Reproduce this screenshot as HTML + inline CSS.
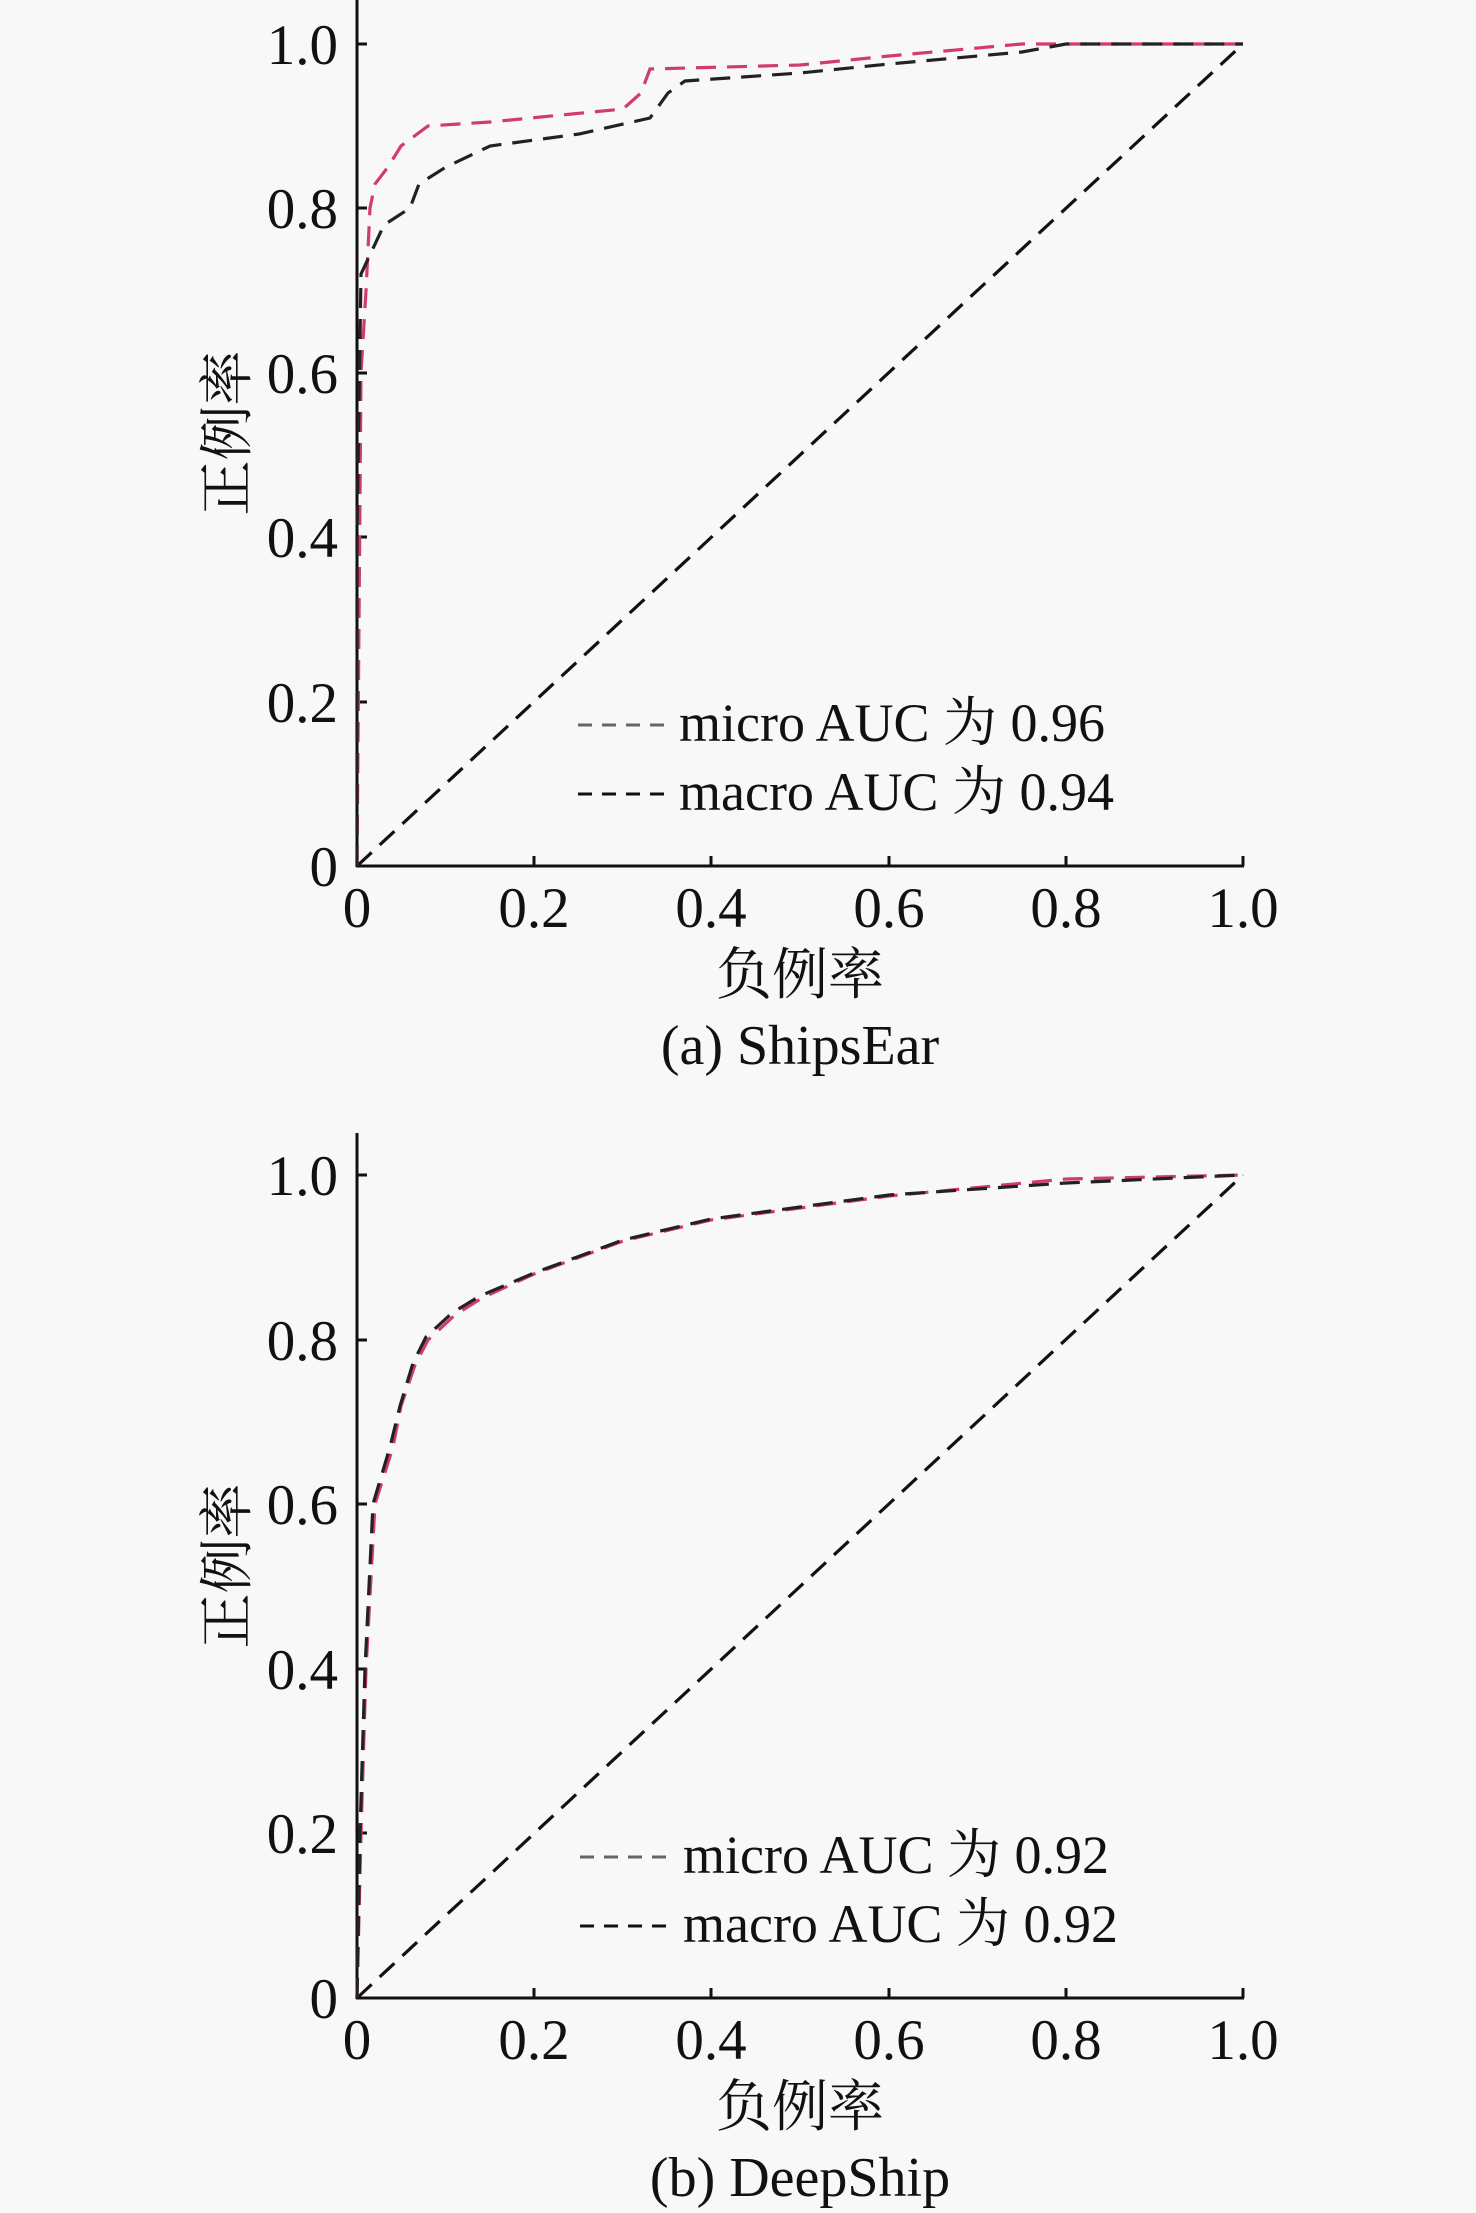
<!DOCTYPE html>
<html><head><meta charset="utf-8"><style>
html,body{margin:0;padding:0;background:#f8f8f8}
svg{display:block}
text{font-family:"Liberation Serif","Noto Serif CJK SC",serif;fill:#111}
.cj{font-family:"Liberation Serif","Noto Serif CJK SC","Noto Sans CJK SC",serif}
</style></head><body>
<svg width="1476" height="2213" viewBox="0 0 1476 2213" xmlns="http://www.w3.org/2000/svg">
<rect width="1476" height="2213" fill="#f8f8f8"/>
<g>
<g stroke="#111" stroke-width="3" fill="none">
<line x1="357" y1="0" x2="357" y2="867"/>
<line x1="356" y1="866" x2="1244" y2="866"/>
<line x1="357" y1="44" x2="367" y2="44"/><line x1="357" y1="208" x2="367" y2="208"/><line x1="357" y1="373" x2="367" y2="373"/><line x1="357" y1="537" x2="367" y2="537"/><line x1="357" y1="702" x2="367" y2="702"/>
<line x1="534" y1="866" x2="534" y2="856"/><line x1="711" y1="866" x2="711" y2="856"/><line x1="889" y1="866" x2="889" y2="856"/><line x1="1066" y1="866" x2="1066" y2="856"/><line x1="1243" y1="866" x2="1243" y2="856"/>
</g>
<g font-size="57" text-anchor="end">
<text x="338" y="64">1.0</text><text x="338" y="228">0.8</text><text x="338" y="393">0.6</text><text x="338" y="557">0.4</text><text x="338" y="722">0.2</text><text x="338" y="886">0</text>
</g>
<g font-size="57" text-anchor="middle">
<text x="357" y="927">0</text><text x="534" y="927">0.2</text><text x="711" y="927">0.4</text><text x="889" y="927">0.6</text><text x="1066" y="927">0.8</text><text x="1243" y="927">1.0</text>
</g>
<text class="cj" x="800" y="994" font-size="56" text-anchor="middle">负例率</text>
<text x="800" y="1064" font-size="56" text-anchor="middle">(a) ShipsEar</text>
<text class="cj" transform="translate(246,433) rotate(-90)" font-size="55" text-anchor="middle">正例率</text>
<g fill="none" stroke-width="3.2" stroke-dasharray="20 11">
<line x1="357" y1="866" x2="1243" y2="44" stroke="#111"/>
<polyline stroke="#d23c6c" points="357,866 361,373 366,291 370,208 375,184 388,167 401,146 428,126 490,122 623,109 641,93 650,69 800,65 889,56 1022,44 1243,44"/>
<polyline stroke="#222" points="357,866 357,537 361,274 384,225 410,208 419,184 446,167 490,146 579,134 650,118 668,93 685,81 800,73 889,64 1022,52 1066,44 1243,44"/>
</g>
<g stroke-width="3" stroke-dasharray="14 10">
<line x1="578" y1="725" x2="668" y2="725" stroke="#666"/>
<line x1="578" y1="794" x2="668" y2="794" stroke="#111"/>
</g>
<text class="cj" x="679" y="741" font-size="54">micro AUC 为 0.96</text>
<text class="cj" x="679" y="810" font-size="54">macro AUC 为 0.94</text>
</g>
<g>
<g stroke="#111" stroke-width="3" fill="none">
<line x1="357" y1="1133" x2="357" y2="1999"/>
<line x1="356" y1="1998" x2="1244" y2="1998"/>
<line x1="357" y1="1175" x2="367" y2="1175"/><line x1="357" y1="1340" x2="367" y2="1340"/><line x1="357" y1="1504" x2="367" y2="1504"/><line x1="357" y1="1669" x2="367" y2="1669"/><line x1="357" y1="1833" x2="367" y2="1833"/>
<line x1="534" y1="1998" x2="534" y2="1988"/><line x1="711" y1="1998" x2="711" y2="1988"/><line x1="889" y1="1998" x2="889" y2="1988"/><line x1="1066" y1="1998" x2="1066" y2="1988"/><line x1="1243" y1="1998" x2="1243" y2="1988"/>
</g>
<g font-size="57" text-anchor="end">
<text x="338" y="1195">1.0</text><text x="338" y="1360">0.8</text><text x="338" y="1524">0.6</text><text x="338" y="1689">0.4</text><text x="338" y="1853">0.2</text><text x="338" y="2018">0</text>
</g>
<g font-size="57" text-anchor="middle">
<text x="357" y="2059">0</text><text x="534" y="2059">0.2</text><text x="711" y="2059">0.4</text><text x="889" y="2059">0.6</text><text x="1066" y="2059">0.8</text><text x="1243" y="2059">1.0</text>
</g>
<text class="cj" x="800" y="2126" font-size="56" text-anchor="middle">负例率</text>
<text x="800" y="2196" font-size="56" text-anchor="middle">(b) DeepShip</text>
<text class="cj" transform="translate(246,1566) rotate(-90)" font-size="55" text-anchor="middle">正例率</text>
<g fill="none" stroke-width="3.2" stroke-dasharray="20 11">
<line x1="357" y1="1998" x2="1243" y2="1175" stroke="#111"/>
<polyline stroke="#d23c6c" points="357,1998 361,1833 366,1669 375,1504 393,1447 401,1406 415,1365 428,1340 455,1315 482,1298 534,1274 623,1241 711,1220 800,1208 889,1196 1066,1179 1243,1175"/>
<polyline stroke="#222" points="357,1998 360,1833 365,1669 373,1504 390,1447 400,1406 413,1363 426,1337 452,1313 480,1296 534,1273 623,1240 711,1219 800,1207 889,1195 1066,1183 1243,1175"/>
</g>
<g stroke-width="3" stroke-dasharray="14 10">
<line x1="580" y1="1857" x2="670" y2="1857" stroke="#666"/>
<line x1="580" y1="1926" x2="670" y2="1926" stroke="#111"/>
</g>
<text class="cj" x="683" y="1873" font-size="54">micro AUC 为 0.92</text>
<text class="cj" x="683" y="1942" font-size="54">macro AUC 为 0.92</text>
</g>
</svg>
</body></html>
